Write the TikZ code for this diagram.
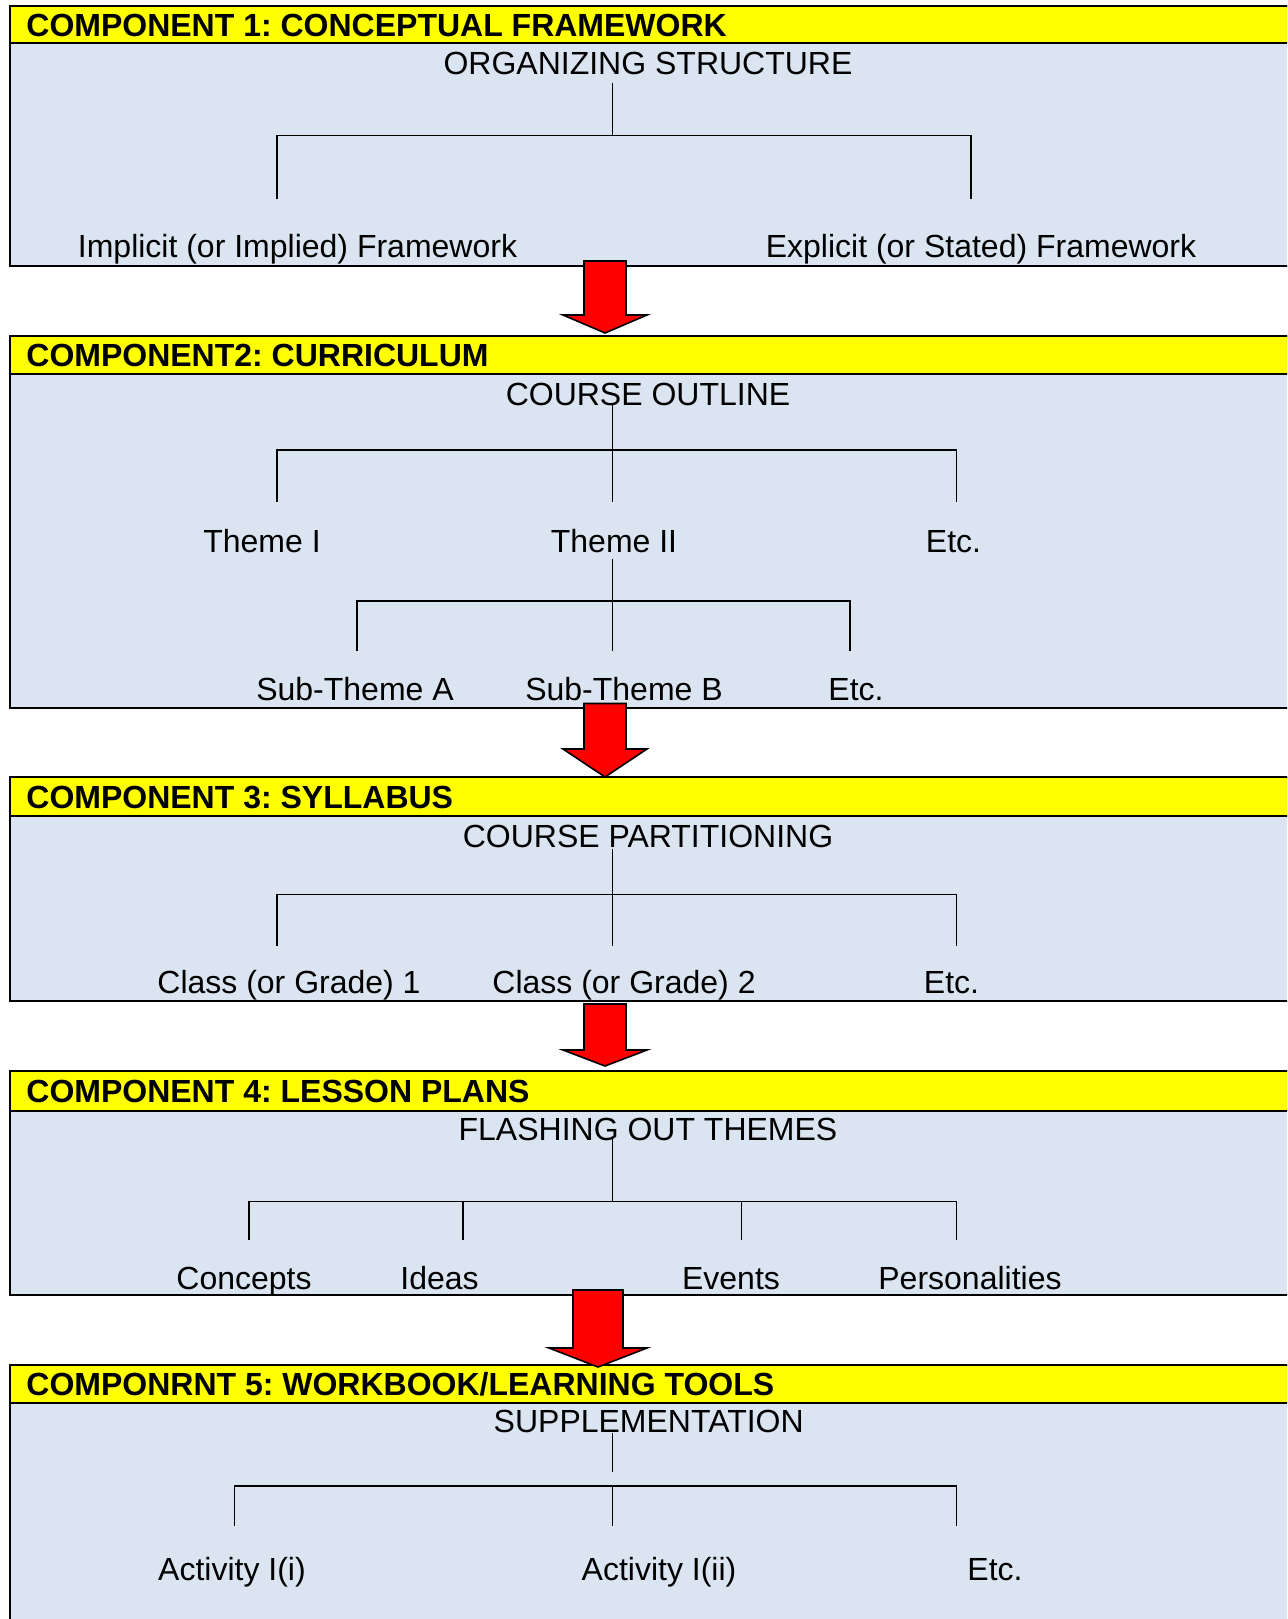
\documentclass[tikz,border=0pt]{standalone}
\usepackage{fontspec}
\setmainfont{Liberation Sans}
\frenchspacing
\definecolor{hdr}{HTML}{FFFF00}
\definecolor{pane}{HTML}{DBE5F1}

\begin{document}
\begin{tikzpicture}[x=0.5pt, y=-0.5pt,
  title/.style={anchor=base west, inner sep=0pt, font=\bfseries\fontsize{16}{19}\selectfont},
  item/.style={anchor=base, inner sep=0pt, font=\fontsize{16}{19}\selectfont},
  tree/.style={line width=0.75pt},
  frame/.style={draw, line width=1pt},
  bigarrow/.style={draw, fill=red, line width=0.8pt, line join=miter}]
  \clip (0,0) rectangle (1287,1619);
  \fill[white] (0,0) rectangle (1287,1619);
  % panels with their yellow title bands
  \foreach \t/\h/\b in {5.7/43.3/265.7, 335.7/374/707.6, 777/816/1001, 1071/1110.5/1295, 1364.6/1402.7/1650} {
    \draw[frame, fill=pane] (10,\t) rectangle (1300,\b);
    \draw[frame, fill=hdr] (10,\t) rectangle (1300,\h);
  }
  % block arrows between the panels
  \foreach \x/\s/\w/\t/\m/\e in {605/21/42/261/315/333, 605/21/42/703.5/749/777, 605/21/42/1004/1050/1066, 598/25/49/1290/1348/1367}
    \draw[bigarrow] (\x-\s,\t) -- (\x+\s,\t) -- (\x+\s,\m) -- (\x+\w,\m) -- (\x,\e) -- (\x-\w,\m) -- (\x-\s,\m) -- cycle;

  % component 1
  \node[title] (h1) at (26,36) {COMPONENT 1: CONCEPTUAL FRAMEWORK};
  \node[item] (org) at (648,74.5) {ORGANIZING STRUCTURE};
  \node[item] (impl) at (297.5,257.5) {Implicit (or Implied) Framework};
  \node[item] (expl) at (981,257.5) {Explicit (or Stated) Framework};
  \coordinate (org-top) at (612.5,82.6);
  \coordinate (org-bar) at (612.5,135.3);
  \coordinate (impl-end) at (277,199.4);
  \coordinate (expl-end) at (971,199.4);
  \draw[tree] (org-top) -- (org-bar);
  \draw[tree] (impl-end) |- (org-bar) -| (expl-end);

  % component 2
  \node[title] (h2) at (26,366.5) {COMPONENT2: CURRICULUM};
  \node[item] (outline) at (648,405) {COURSE OUTLINE};
  \node[item] (th1) at (262,552.5) {Theme I};
  \node[item] (th2) at (614,552.5) {Theme II};
  \node[item] (th3) at (953.5,552.5) {Etc.};
  \coordinate (outline-top) at (612.5,403);
  \coordinate (th-bar) at (612.5,450);
  \coordinate (th1-end) at (277,502);
  \coordinate (th2-end) at (612.5,502);
  \coordinate (th3-end) at (956.5,502);
  \draw[tree] (outline-top) -- (th2-end);
  \draw[tree] (th1-end) |- (th-bar) -| (th3-end);
  \node[item] (sub1) at (355,700.5) {Sub-Theme A};
  \node[item] (sub2) at (624,700.5) {Sub-Theme B};
  \node[item] (sub3) at (856,700.5) {Etc.};
  \coordinate (th2-low) at (612.5,559);
  \coordinate (sub-bar) at (612.5,601);
  \coordinate (sub1-end) at (357,651);
  \coordinate (sub2-end) at (612.5,651);
  \coordinate (sub3-end) at (850,651);
  \draw[tree] (th2-low) -- (sub2-end);
  \draw[tree] (sub1-end) |- (sub-bar) -| (sub3-end);

  % component 3
  \node[title] (h3) at (26,808) {COMPONENT 3: SYLLABUS};
  \node[item] (part) at (648,847) {COURSE PARTITIONING};
  \node[item] (cls1) at (289,993) {Class (or Grade) 1};
  \node[item] (cls2) at (624,993) {Class (or Grade) 2};
  \node[item] (cls3) at (951.5,993) {Etc.};
  \coordinate (part-top) at (612.5,849);
  \coordinate (cls-bar) at (612.5,894.5);
  \coordinate (cls1-end) at (277,946);
  \coordinate (cls2-end) at (612.5,946);
  \coordinate (cls3-end) at (956.5,946);
  \draw[tree] (part-top) -- (cls2-end);
  \draw[tree] (cls1-end) |- (cls-bar) -| (cls3-end);

  % component 4
  \node[title] (h4) at (26,1102.5) {COMPONENT 4: LESSON PLANS};
  \node[item] (flash) at (648,1140.5) {FLASHING OUT THEMES};
  \node[item] (conc) at (244,1289.5) {Concepts};
  \node[item] (idea) at (439.5,1289.5) {Ideas};
  \node[item] (evnt) at (731,1289.5) {Events};
  \node[item] (pers) at (970,1289.5) {Personalities};
  \coordinate (flash-top) at (612.5,1139);
  \coordinate (flash-bar) at (612.5,1201.5);
  \coordinate (conc-end) at (249,1239.6);
  \coordinate (idea-end) at (463,1239.6);
  \coordinate (evnt-end) at (741.7,1239.6);
  \coordinate (pers-end) at (956.5,1239.6);
  \draw[tree] (flash-top) -- (flash-bar);
  \draw[tree] (conc-end) |- (flash-bar) -| (pers-end);
  \draw[tree] (idea-end) -- (idea-end |- flash-bar);
  \draw[tree] (evnt-end) -- (evnt-end |- flash-bar);

  % component 5
  \node[title] (h5) at (26,1395) {COMPONRNT 5: WORKBOOK/LEARNING TOOLS};
  \node[item] (supp) at (648.7,1432.7) {SUPPLEMENTATION};
  \node[item] (act1) at (232,1580) {Activity I(i)};
  \node[item] (act2) at (659,1580) {Activity I(ii)};
  \node[item] (act3) at (995,1580) {Etc.};
  \coordinate (supp-top) at (612.5,1433);
  \coordinate (supp-low) at (612.5,1472);
  \coordinate (act-bar) at (612.5,1486);
  \coordinate (act1-end) at (234.5,1526);
  \coordinate (act2-end) at (612.5,1526);
  \coordinate (act3-end) at (956.5,1526);
  \draw[tree] (supp-top) -- (supp-low);
  \draw[tree] (act-bar) -- (act2-end);
  \draw[tree] (act1-end) |- (act-bar) -| (act3-end);
\end{tikzpicture}
\end{document}
